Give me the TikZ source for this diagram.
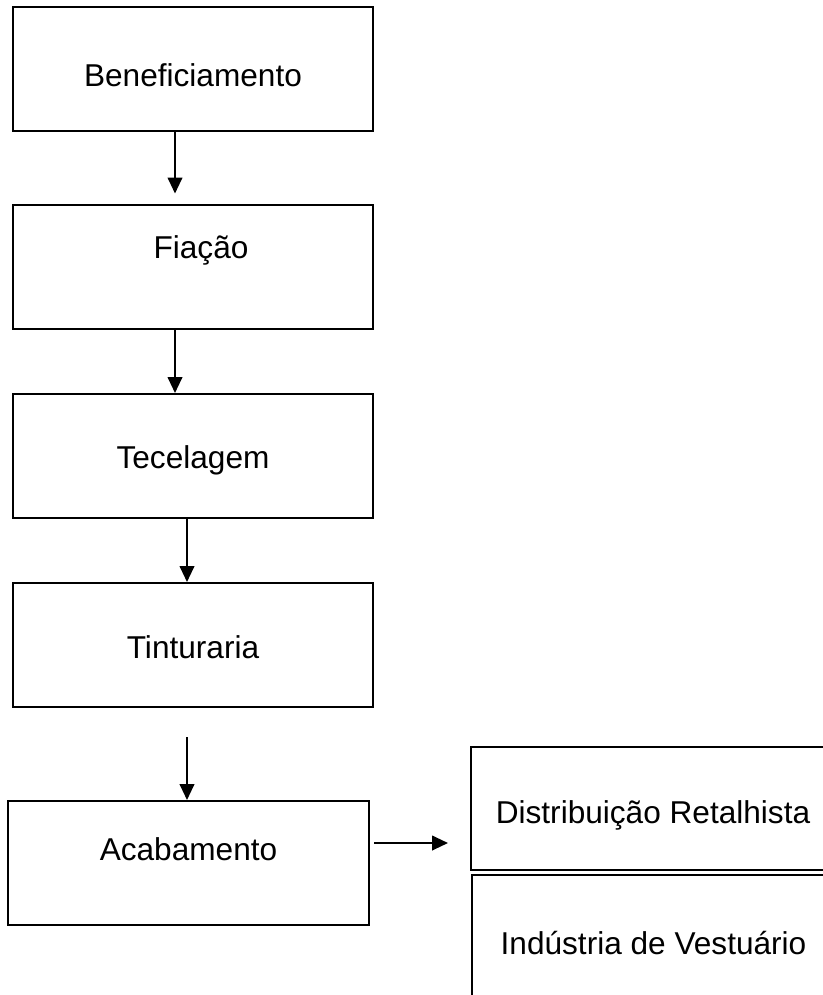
\documentclass[tikz,border=0pt]{standalone}
\usepackage{fontspec}
\setmainfont{Liberation Sans}
\usetikzlibrary{arrows.meta,positioning}
\newcommand\nudge[3]{\raisebox{#2}[\height][\depth]{\hspace*{#1}#3\hspace*{-#1}}}

\begin{document}
\begin{tikzpicture}[x=0.75pt,y=-0.75pt, every node/.style={font=\fontsize{23.7}{28}\selectfont,align=center},
  box/.style={draw,line width=1.5pt,inner sep=0pt,minimum width=270pt,minimum height=93pt},
  a/.style={line width=1.5pt,-{Triangle[length=12pt,width=11pt]}}]
  \useasboundingbox (0,0) rectangle (823,995);
  \node[box] (benef) at (193,69) {\nudge{0pt}{-5pt}{Beneficiamento}};
  \node[box] (fiacao) at (193,266.5) {\nudge{6pt}{12pt}{Fiação}};
  \node[box] (tecel) at (193,456) {\nudge{0pt}{-3pt}{Tecelagem}};
  \node[box] (tint) at (193,645) {\nudge{0pt}{-2pt}{Tinturaria}};
  \node[box,minimum width=271pt] (acab) at (188.5,863) {\nudge{0pt}{10pt}{Acabamento}};
  \node[box,minimum width=273pt,minimum height=92pt] (distr) at (653,808.5) {\nudge{0pt}{-5pt}{Distribuição Retalhista}};
  \node[box,minimum width=273pt,minimum height=102pt] (vest) at (653.5,943) {Indústria de Vestuário};
  % setas da cadeia
  \draw[a,shorten >=7.5pt] ([xshift=-13.5pt]benef.south) -- ([xshift=-13.5pt]fiacao.north);
  \draw[a] ([xshift=-13.5pt]fiacao.south) -- ([xshift=-13.5pt]tecel.north);
  \draw[a] ([xshift=-4.5pt]tecel.south) -- ([xshift=-4.5pt]tint.north);
  \draw[a,shorten <=22pt] ([xshift=-4.5pt]tint.south) -- ([xshift=-4.5pt]tint.south |- acab.north);
  \draw[a,shorten <=3pt,shorten >=16.5pt] ([yshift=15pt]acab.east) -- ([yshift=15pt]acab.east -| distr.west);
\end{tikzpicture}
\end{document}
